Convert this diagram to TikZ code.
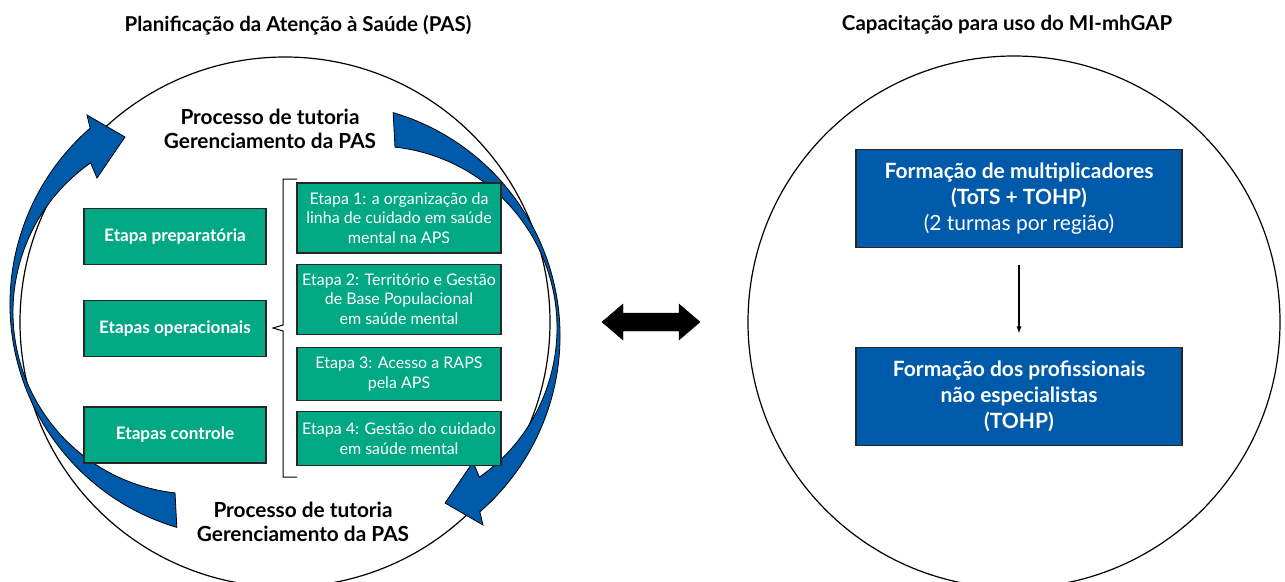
\documentclass[tikz,border=0pt]{standalone}
\usepackage{fontspec}
\setmainfont{Lato}
\usetikzlibrary{positioning,calc,arrows}

\definecolor{pasgreen}{RGB}{0,168,132}
\definecolor{pasblue}{RGB}{0,90,170}

\tikzset{
  titulo/.style={font=\bfseries\fontsize{20.5}{24}\selectfont},
  tutoria/.style={font=\bfseries\fontsize{20.8}{24}\selectfont, align=center},
  fase/.style={draw=black!85, line width=1.2pt, fill=pasgreen, text=white,
    font=\bfseries\fontsize{17.2}{20}\selectfont, minimum width=182pt, minimum height=56pt},
  etapa/.style={draw=black!85, line width=1.2pt, fill=pasgreen, text=white,
    font=\fontsize{16}{19.5}\selectfont, align=center, minimum width=204pt, inner sep=2pt},
  formacao/.style={draw=black!85, line width=1.2pt, fill=pasblue, text=white,
    font=\bfseries\fontsize{21}{26}\selectfont, align=center, minimum width=326pt, minimum height=98pt},
  seta/.style={fill=pasblue, draw=black, line width=0.8pt},
}

% curved arrow of the PAS cycle
\newcommand{\setacurva}[1]{%
  \filldraw[seta,#1] ($(243,304)+(106.5:233)$) arc[start angle=106.5, end angle=229, radius=233]
    -- (87,115) -- (125,137) -- (97,178)
    -- ($(195,312)+(235:182)$) arc[start angle=235, end angle=96.3, radius=182] -- cycle;}

\begin{document}
\begin{tikzpicture}[x=1pt,y=-1pt]
\useasboundingbox (0,0) rectangle (1285,581);

% circles
\draw[line width=1.2pt] (285,322) circle[radius=265];
\draw[line width=1.2pt] (1014,322) circle[radius=266];

% cycle arrows
\setacurva{}
\setacurva{rotate around={180:(285,320)}}

% titles
\node[titulo] (tpas) at (298,25) {Planificação da Atenção à Saúde (PAS)};
\node[titulo] (tcap) at (1007,25) {Capacitação para uso do MI-mhGAP};
\node[tutoria] (tut1) at (270,129) {Processo de tutoria\\Gerenciamento da PAS};
\node[tutoria] (tut2) at (303,522) {Processo de tutoria\\Gerenciamento da PAS};

% fases
\node[fase] (prep) at (175,236.5) {Etapa preparatória};
\node[fase] (oper) at (175,328.5) {Etapas operacionais};
\node[fase] (ctrl) at (175,435) {Etapas controle};

% etapas
\node[etapa, minimum height=70pt] (e1) at (399,218) {Etapa 1: a organização da\\linha de cuidado em saúde\\mental na APS};
\node[etapa, minimum height=70pt, below=10pt of e1] (e2) {Etapa 2: Território e Gestão\\de Base Populacional\\em saúde mental};
\node[etapa, minimum height=53pt, below=12pt of e2] (e3) {Etapa 3: Acesso a RAPS\\pela APS};
\node[etapa, minimum height=54pt, below=10pt of e3] (e4) {Etapa 4: Gestão do cuidado\\em saúde mental};

% chave
\draw[line width=1pt] (297,179) -| (283,325) -- (273,328) -- (283,331) |- (297,477);

% seta dupla
\filldraw[black] (602,322) -- (623,304) -- (623,313) -- (679,313) -- (679,304) -- (700,322)
  -- (679,340) -- (679,331) -- (623,331) -- (623,340) -- cycle;

% capacitacao
\node[formacao] (mult) at (1019,198.5) {Formação de multiplicadores\\(ToTS + TOHP)\\{\mdseries (2 turmas por região)}};
\node[formacao, below=99pt of mult] (prof) {Formação dos profissionais\\não especialistas\\(TOHP)};
\draw[-latex, line width=1.3pt, shorten <=17pt, shorten >=14pt] (mult) -- (prof);
\end{tikzpicture}
\end{document}
